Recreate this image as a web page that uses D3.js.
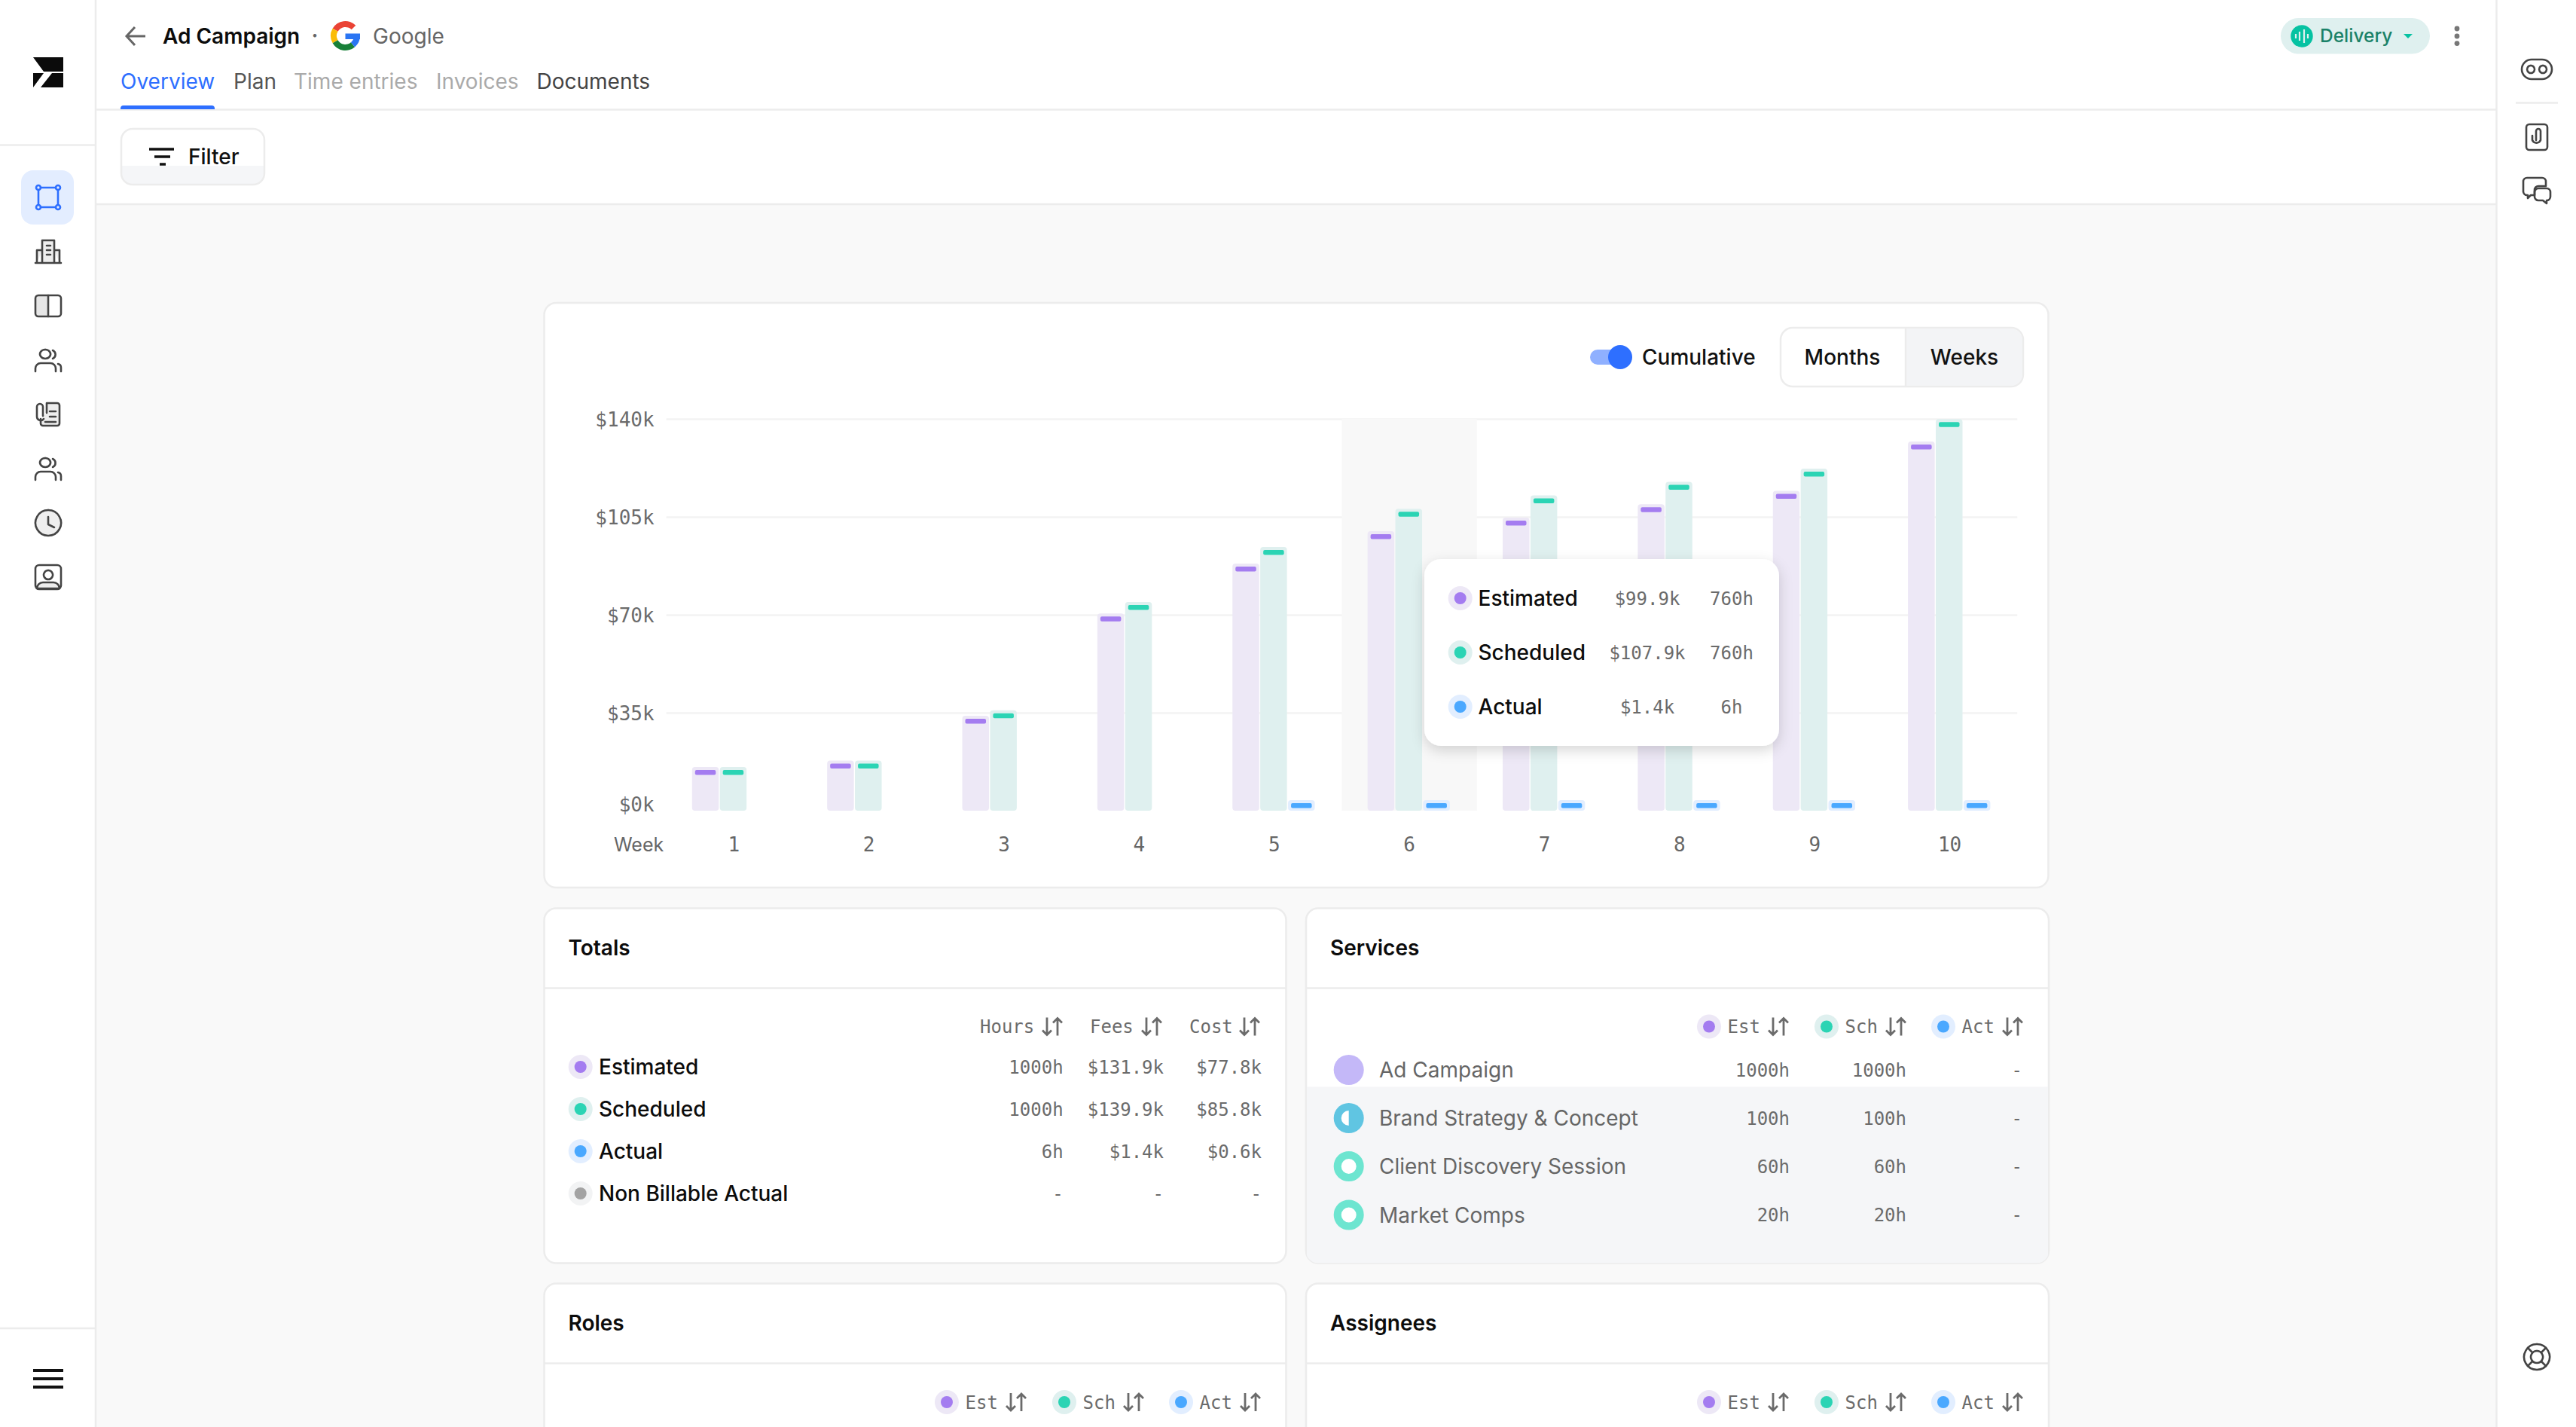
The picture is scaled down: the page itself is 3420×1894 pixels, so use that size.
<!DOCTYPE html>
<html>
<head>
<meta charset="utf-8">
<title>Ad Campaign</title>
<script src="https://d3js.org/d3.v7.min.js"></script>
<style>
  html, body { margin: 0; padding: 0; background: #f9f9f9; }
  svg { display: block; }
  text { font-family: Inter, sans-serif; }
  .mono, .mono text { font-family: "DejaVu Sans Mono", monospace; }
</style>
</head>
<body>
<div id="app"></div>
<script>
// Chart values, in thousands of dollars
const weeks = ["1", "2", "3", "4", "5", "6", "7", "8", "9", "10"];
const estimated = [15.6, 17.9, 33.9, 70.5, 88.3, 99.9, 104.7, 109.5, 114.3, 131.9];
const scheduled = [15.6, 17.9, 35.9, 74.6, 94.2, 107.9, 112.7, 117.5, 122.2, 139.9];
const actual = [null, null, null, null, 1.4, 1.4, 1.4, 1.4, 1.4, 1.4];
const yTicks = [0, 35, 70, 105, 140];
const highlightedWeek = "6";

// Text tables
const tabs = ["Overview", "Plan", "Time entries", "Invoices", "Documents"];
const tooltipNames = ["Estimated", "Scheduled", "Actual"];
const tooltipFees = ["$99.9k", "$107.9k", "$1.4k"];
const tooltipHours = ["760h", "760h", "6h"];
const totalNames = ["Estimated", "Scheduled", "Actual", "Non Billable Actual"];
const totalHours = ["1000h", "1000h", "6h", "-"];
const totalFees = ["$131.9k", "$139.9k", "$1.4k", "-"];
const totalCost = ["$77.8k", "$85.8k", "$0.6k", "-"];
const serviceNames = ["Ad Campaign", "Brand Strategy & Concept", "Client Discovery Session", "Market Comps"];
const serviceEst = ["1000h", "100h", "60h", "20h"];
const serviceSch = ["1000h", "100h", "60h", "20h"];
const serviceAct = ["-", "-", "-", "-"];

const colors = {
  Estimated: { dot: "#a47cf0", soft: "#ede8f6" },
  Scheduled: { dot: "#2bd4b4", soft: "#dff0ef" },
  Actual: { dot: "#4aa8ff", soft: "#e2eeff" },
  "Non Billable Actual": { dot: "#a3a3a3", soft: "#f2f3f4" }
};
const blue = "#2e6fff";
const lineColor = "#ececec";

const svg = d3.select("#app").append("svg")
  .attr("width", 3420)
  .attr("height", 1894)
  .attr("viewBox", "0 0 3420 1894");

const defs = svg.append("defs");
const shadow = defs.append("filter").attr("id", "tip-shadow")
  .attr("x", "-20%").attr("y", "-20%").attr("width", "140%").attr("height", "150%");
shadow.append("feDropShadow").attr("dx", 0).attr("dy", 6).attr("stdDeviation", 9)
  .attr("flood-color", "#000").attr("flood-opacity", 0.16);

//******************************************************************************************** */
// Small helpers
function label(parent, x, y, str, size, weight, fill, anchor) {
  return parent.append("text")
    .attr("x", x).attr("y", y)
    .attr("dy", "0.36em")
    .attr("font-size", size)
    .attr("font-weight", weight)
    .attr("fill", fill)
    .attr("text-anchor", anchor || "start")
    .text(str);
}

function mono(parent, x, y, str, anchor) {
  return label(parent, x, y, str, 24, 400, "#6b6b6b", anchor).attr("class", "mono");
}

function box(parent, x, y, w, h, r, fill, stroke) {
  return parent.append("rect")
    .attr("x", x).attr("y", y).attr("width", w).attr("height", h)
    .attr("rx", r).attr("ry", r)
    .attr("fill", fill)
    .attr("stroke", stroke || "none")
    .attr("stroke-width", stroke ? 2.5 : 0);
}

function hline(parent, x1, x2, y) {
  parent.append("line").attr("x1", x1).attr("x2", x2).attr("y1", y).attr("y2", y)
    .attr("stroke", lineColor).attr("stroke-width", 2.5);
}

function vline(parent, x, y1, y2) {
  parent.append("line").attr("x1", x).attr("x2", x).attr("y1", y1).attr("y2", y2)
    .attr("stroke", lineColor).attr("stroke-width", 2.5);
}

function seriesDot(parent, cx, cy, name) {
  parent.append("circle").attr("cx", cx).attr("cy", cy).attr("r", 16).attr("fill", colors[name].soft);
  parent.append("circle").attr("cx", cx).attr("cy", cy).attr("r", 8).attr("fill", colors[name].dot);
}

function sortArrows(parent, x, cy) {
  const g = parent.append("g").attr("transform", `translate(${x},${cy})`)
    .attr("fill", "none").attr("stroke", "#6b6b6b").attr("stroke-width", 2.8);
  g.append("path").attr("d", "M6 -12V11M0 5L6 11L12 5");
  g.append("path").attr("d", "M20 12V-11M14 -5L20 -11L26 -5");
}

function icon(x, y, paths, stroke) {
  const g = svg.append("g").attr("transform", `translate(${x},${y})`)
    .attr("fill", "none").attr("stroke", stroke || "#444").attr("stroke-width", 2.6)
    .attr("stroke-linecap", "round").attr("stroke-linejoin", "round");
  paths.forEach((p) => {
    g.append("path").attr("d", p.d).attr("fill", p.fill || "none");
  });
}

//******************************************************************************************** */
// Page frame
svg.append("rect").attr("width", 3420).attr("height", 1894).attr("fill", "#f9f9f9");
svg.append("rect").attr("width", 127).attr("height", 1894).attr("fill", "#fff");
svg.append("rect").attr("x", 3314).attr("width", 106).attr("height", 1894).attr("fill", "#fff");
svg.append("rect").attr("x", 127).attr("width", 3187).attr("height", 271).attr("fill", "#fff");
vline(svg, 127, 0, 1894);
vline(svg, 3314.5, 0, 1894);
hline(svg, 127, 3314, 145.5);
hline(svg, 127, 3314, 271);
hline(svg, 0, 127, 192.5);
hline(svg, 0, 127, 1763);
hline(svg, 3340, 3396, 136.5);

// Logo
svg.append("path").attr("fill", "#0b0b0b")
  .attr("d", "M44 76H84V95H58ZM44 97L58 97L44 116ZM84 97V116H54L69 97Z");

// Left navigation
const peopleIcon = [
  { d: "M-4 -14a7 6 0 1 0 .1 0" },
  { d: "M6 -13a6 6 0 0 1 0 11M-17 15V11a7 7 0 0 1 7 -7H3a7 7 0 0 1 7 7V15M13 5a5 5 0 0 1 4 5V15" }
];
box(svg, 28, 226, 70, 72, 16, "#e3edff");
icon(64, 262, [{ d: "M-10 -13H10M-10 13H10M-13 -10V10M13 -10V10" },
  { d: "M-16 -13a3 3 0 0 1 6 0a3 3 0 0 1 -6 0M10 -13a3 3 0 0 1 6 0a3 3 0 0 1 -6 0M-16 13a3 3 0 0 1 6 0a3 3 0 0 1 -6 0M10 13a3 3 0 0 1 6 0a3 3 0 0 1 -6 0" }], blue);
icon(64, 334, [{ d: "M-17 15H17M-8 15V-15H8V15M-8 -2H-15V15M8 -2H15V15", fill: "#eee" }, { d: "M-2 -8H3M-2 -2H3M-2 4H3" }]);
icon(64, 406, [{ d: "M0 -14H-13a4 4 0 0 0 -4 4V10a4 4 0 0 0 4 4H0Z", fill: "#e6e6e6" }, { d: "M0 -14H13a4 4 0 0 1 4 4V10a4 4 0 0 1 -4 4H0" }]);
icon(64, 478, peopleIcon);
icon(64, 550, [{ d: "M-10 6V12a3 3 0 0 0 3 3H12a3 3 0 0 0 3 -3V-12a3 3 0 0 0 -3 -3H-2V-2", fill: "#eee" }, { d: "M-6 6a5 5 0 0 1 -9 -3V-10a4 4 0 0 1 8 0V2M2 -4H10M2 3H10M-4 10H10" }]);
icon(64, 622, peopleIcon);
icon(64, 694, [{ d: "M0 -17a17 17 0 1 0 .1 0", fill: "#eee" }, { d: "M0 -8V2L8 6" }]);
icon(64, 766, [{ d: "M-12 -16H12a5 5 0 0 1 5 5V11a5 5 0 0 1 -5 5H-12a5 5 0 0 1 -5 -5V-11a5 5 0 0 1 5 -5Z" },
  { d: "M0 -9a6 6 0 1 0 .1 0" }, { d: "M-15 15a8 8 0 0 1 8 -8H7a8 8 0 0 1 8 8Z", fill: "#eee" }]);

// Hamburger
svg.append("path").attr("d", "M44 1819H84M44 1830H84M44 1841H84")
  .attr("stroke", "#111").attr("stroke-width", 4).attr("fill", "none");

// Right rail icons
icon(3368, 92, [{ d: "M-7 -13H7a13 13 0 0 1 0 26H-7a13 13 0 0 1 0 -26Z" }, { d: "M-8 -5a5 5 0 1 0 .1 0M8 -5a5 5 0 1 0 .1 0" }]);
icon(3368, 182, [{ d: "M-10 -17H10a4 4 0 0 1 4 4V13a4 4 0 0 1 -4 4H-10a4 4 0 0 1 -4 -4V-13a4 4 0 0 1 4 -4Z" }, { d: "M-6 -2V4a6 6 0 0 0 11 0V-8a3 3 0 0 0 -6 0V4" }]);
icon(3368, 253, [{ d: "M-13 -17H7a5 5 0 0 1 5 5V-6H2a5 5 0 0 0 -5 5V6H-8L-12 10V6H-13a5 5 0 0 1 -5 -5V-12a5 5 0 0 1 5 -5Z" }, { d: "M2 -3H13a5 5 0 0 1 5 5V8a5 5 0 0 1 -5 5V17L8 13H2a5 5 0 0 1 -5 -5V2a5 5 0 0 1 5 -5Z" }]);
icon(3368, 1801, [{ d: "M0 -17a17 17 0 1 0 .1 0" }, { d: "M0 -8a8 8 0 1 0 .1 0" }, { d: "M-12 -12L-6 -6M12 -12L6 -6M-12 12L-6 6M12 12L6 6" }]);

//******************************************************************************************** */
// Top bar
svg.append("path").attr("d", "M193 48H169M179 36L168 48L179 60")
  .attr("fill", "none").attr("stroke", "#666").attr("stroke-width", 3);
label(svg, 216, 48, "Ad Campaign", 28, 600, "#0c0c0c");
label(svg, 418, 47, "·", 28, 600, "#666", "middle");

// Google mark
const gLogo = svg.append("g").attr("transform", "translate(458.5,47.5)");
const gArc = d3.arc().innerRadius(11.5).outerRadius(19.5);
const deg = Math.PI / 180;
gLogo.append("path").attr("d", gArc({ startAngle: -60 * deg, endAngle: 45 * deg })).attr("fill", "#ea4335");
gLogo.append("path").attr("d", gArc({ startAngle: -120 * deg, endAngle: -60 * deg })).attr("fill", "#fbbc05");
gLogo.append("path").attr("d", gArc({ startAngle: -220 * deg, endAngle: -120 * deg })).attr("fill", "#188038");
gLogo.append("path").attr("d", gArc({ startAngle: 90 * deg, endAngle: 140 * deg })).attr("fill", "#2a75f3");
gLogo.append("rect").attr("x", 0).attr("y", -3).attr("width", 19.5).attr("height", 7.5).attr("fill", "#2a75f3");
label(svg, 495, 48, "Google", 28, 400, "#666");

// Tabs
const tabX = [160, 310, 390, 579, 712.5];
const tabFill = [blue, "#555", "#aaa", "#aaa", "#444"];
tabs.forEach((t, i) => label(svg, tabX[i], 108, t, 28, 400, tabFill[i]));
svg.append("path").attr("d", "M160 145V144a4 4 0 0 1 4 -4H281a4 4 0 0 1 4 4V145Z").attr("fill", blue);

// Delivery pill
box(svg, 3028, 24, 198, 47.5, 23.7, "#dff0ef");
svg.append("circle").attr("cx", 3056).attr("cy", 48).attr("r", 14.7).attr("fill", "#06c2a2");
svg.append("path").attr("d", "M3048 45V51M3053 42V54M3059 39V57M3064 45V51")
  .attr("stroke", "#dff0ef").attr("stroke-width", 2.2);
label(svg, 3080, 47, "Delivery", 24.5, 500, "#1a8268");
svg.append("path").attr("d", "M3191 45H3203L3197 51Z").attr("fill", "#06c2a2");
[38, 48, 57.6].forEach((cy) => svg.append("circle").attr("cx", 3262).attr("cy", cy).attr("r", 3.4).attr("fill", "#777"));

// Filter button
const filterGrad = defs.append("linearGradient").attr("id", "filter-fill").attr("x1", 0).attr("x2", 0).attr("y1", 0).attr("y2", 1);
filterGrad.append("stop").attr("offset", "66%").attr("stop-color", "#fff");
filterGrad.append("stop").attr("offset", "66%").attr("stop-color", "#f5f6f8");
box(svg, 161, 171, 190, 74, 15, "url(#filter-fill)", lineColor);
svg.append("path").attr("d", "M198 198H231M205 208H226M212 218H220")
  .attr("stroke", "#111").attr("stroke-width", 3.6);
label(svg, 250, 208, "Filter", 28, 500, "#111");

//******************************************************************************************** */
// Chart card
box(svg, 722.5, 402, 1997, 776, 16, "#fff", lineColor);

const plotLeft = 884.6;
const plotRight = 2678.3;
const plotTop = 556;
const plotBottom = 1076;

const x = d3.scaleBand().domain(weeks).range([plotLeft, plotRight]);
const y = d3.scaleLinear().domain([0, 140]).range([plotBottom, plotTop]);
const seriesX = d3.scaleBand().domain(["Estimated", "Scheduled", "Actual"])
  .range([-55.5, 53.8]).paddingInner(0.038);

// Grid lines
const grid = svg.append("g").attr("transform", `translate(${plotLeft},0)`)
  .call(d3.axisLeft(y).tickValues(yTicks.filter((d) => d > 0)).tickSize(-(plotRight - plotLeft)).tickFormat(""));
grid.select(".domain").remove();
grid.selectAll("line").attr("stroke", "#f3f3f3").attr("stroke-width", 2.5);

// Hover column sits over the grid
svg.append("rect")
  .attr("x", x(highlightedWeek)).attr("y", plotTop)
  .attr("width", x.bandwidth()).attr("height", plotBottom - plotTop)
  .attr("fill", "#f8f8f8");

// Y axis labels
const yAxis = svg.append("g").attr("class", "mono").attr("transform", `translate(${plotLeft},0)`)
  .call(d3.axisLeft(y).tickValues(yTicks).tickSize(0).tickPadding(16).tickFormat((d) => `$${d}k`));
yAxis.select(".domain").remove();
yAxis.selectAll("text")
  .attr("class", "mono")
  .attr("font-size", 26)
  .attr("fill", "#6b6b6b")
  .attr("dy", (d) => (d === 0 ? "0.02em" : "0.36em"));

// X axis labels
const xAxis = svg.append("g").attr("class", "mono").attr("transform", `translate(0,${plotBottom})`)
  .call(d3.axisBottom(x).tickSize(0).tickPadding(36));
xAxis.select(".domain").remove();
xAxis.selectAll("text").attr("class", "mono").attr("font-size", 26).attr("fill", "#666");
label(svg, 815, 1121, "Week", 25, 400, "#666");

// Bars: soft column with a darker cap
const capInset = 4;
const capHeight = 6.5;
const minBar = 14;
const series = [
  { name: "Estimated", values: estimated },
  { name: "Scheduled", values: scheduled },
  { name: "Actual", values: actual }
];

series.forEach((s) => {
  const points = weeks
    .map((week, i) => ({ week, value: s.values[i] }))
    .filter((d) => d.value !== null);
  const barX = (d) => x(d.week) + x.bandwidth() / 2 + seriesX(s.name);
  const barTop = (d) => Math.min(y(d.value), plotBottom - minBar);

  svg.append("g").selectAll("rect")
    .data(points)
    .enter()
    .append("rect")
    .attr("x", barX)
    .attr("y", barTop)
    .attr("width", seriesX.bandwidth())
    .attr("height", (d) => plotBottom - barTop(d))
    .attr("rx", 4)
    .attr("fill", colors[s.name].soft);

  svg.append("g").selectAll("rect")
    .data(points)
    .enter()
    .append("rect")
    .attr("x", (d) => barX(d) + capInset)
    .attr("y", (d) => barTop(d) + capInset)
    .attr("width", seriesX.bandwidth() - 2 * capInset)
    .attr("height", capHeight)
    .attr("rx", 2)
    .attr("fill", colors[s.name].dot);
});

// Toggle and range buttons
box(svg, 2111, 464, 42, 20, 10, "#8fb0ff");
svg.append("circle").attr("cx", 2151).attr("cy", 474).attr("r", 16).attr("fill", blue);
label(svg, 2180, 474, "Cumulative", 28, 500, "#111");
box(svg, 2364, 435, 322, 78, 16, "#fff", lineColor);
svg.append("path").attr("d", "M2530 436H2670a15 15 0 0 1 15 15V497a15 15 0 0 1 -15 15H2530Z").attr("fill", "#f3f4f6");
vline(svg, 2530, 436, 512);
label(svg, 2446, 474, "Months", 28, 500, "#111", "middle");
label(svg, 2608, 474, "Weeks", 28, 500, "#111", "middle");

// Tooltip
const tip = svg.append("g");
box(tip, 1891, 742, 471, 248, 22, "#fff").attr("filter", "url(#tip-shadow)");
const tipY = [794, 866, 938];
tooltipNames.forEach((name, i) => {
  seriesDot(tip, 1938.7, tipY[i], name);
  label(tip, 1962.5, tipY[i], name, 28, 500, "#0c0c0c");
  mono(tip, 2187, tipY[i], tooltipFees[i], "middle");
  mono(tip, 2299, tipY[i], tooltipHours[i], "middle");
});

//******************************************************************************************** */
// Table cards
function card(left, width, top, height, title) {
  box(svg, left, top, width, height, 16, "#fff", lineColor);
  hline(svg, left, left + width, top + 106);
  label(svg, left + 32, top + 52.5, title, 28, 600, "#0c0c0c");
}

function estSchActHeader(offset, cy) {
  [["Estimated", "Est", 1257], ["Scheduled", "Sch", 1413], ["Actual", "Act", 1568]].forEach(([name, str, dotX]) => {
    seriesDot(svg, dotX + offset, cy, name);
    mono(svg, dotX + offset + 24.5, cy, str);
    sortArrows(svg, dotX + offset + 79, cy);
  });
}

// Totals
card(722.5, 985, 1205.5, 1676.5 - 1205.5, "Totals");
[["Hours", 1301, 1384], ["Fees", 1447, 1516], ["Cost", 1579, 1646]].forEach(([str, tx, ax]) => {
  mono(svg, tx, 1362.5, str);
  sortArrows(svg, ax, 1362.5);
});
const totalY = [1416, 1472, 1528, 1584];
totalNames.forEach((name, i) => {
  seriesDot(svg, 770.7, totalY[i], name);
  label(svg, 795, totalY[i], name, 28, 500, "#0c0c0c");
  mono(svg, 1411.6, totalY[i], totalHours[i], "end");
  mono(svg, 1545, totalY[i], totalFees[i], "end");
  mono(svg, 1675, totalY[i], totalCost[i], "end");
});

// Services
const servicesClip = defs.append("clipPath").attr("id", "services-clip");
servicesClip.append("rect").attr("x", 1734).attr("y", 1205).attr("width", 986).attr("height", 471.5).attr("rx", 16);
card(1734, 986, 1205.5, 1676.5 - 1205.5, "Services");
svg.append("rect").attr("x", 1735).attr("y", 1442.5).attr("width", 984).attr("height", 234)
  .attr("clip-path", "url(#services-clip)").attr("fill", "#f5f6f8");
estSchActHeader(1012, 1362.5);
const serviceY = [1420, 1484, 1548, 1612.5];
serviceNames.forEach((name, i) => {
  const cy = serviceY[i];
  if (i === 0) {
    svg.append("circle").attr("cx", 1790.7).attr("cy", cy).attr("r", 20).attr("fill", "#c4b8f8");
  } else if (i === 1) {
    svg.append("circle").attr("cx", 1790.7).attr("cy", cy).attr("r", 20).attr("fill", "#60c5e2");
    svg.append("path").attr("d", `M1790.7 ${cy - 10}a10 10 0 0 0 0 20Z`).attr("fill", "#fff");
  } else {
    svg.append("circle").attr("cx", 1790.7).attr("cy", cy).attr("r", 15).attr("fill", "#fff")
      .attr("stroke", "#6de5d0").attr("stroke-width", 10);
  }
  label(svg, 1831, cy, name, 28, 400, "#666");
  mono(svg, 2376, cy, serviceEst[i], "end");
  mono(svg, 2531, cy, serviceSch[i], "end");
  mono(svg, 2685, cy, serviceAct[i], "end");
});

// Roles and Assignees, cut off by the bottom of the window
card(722.5, 985, 1703.5, 300, "Roles");
estSchActHeader(0, 1861);
card(1734, 986, 1703.5, 300, "Assignees");
estSchActHeader(1012, 1861);
</script>
</body>
</html>
